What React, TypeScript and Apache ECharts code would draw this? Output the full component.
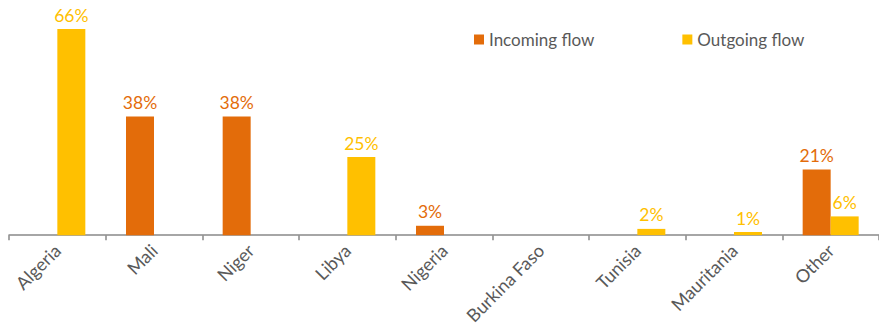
import React, { useEffect, useRef } from "react";
import * as echarts from "echarts";

const categories = ["Algeria", "Mali", "Niger", "Libya", "Nigeria", "Burkina Faso", "Tunisia", "Mauritania", "Other"];
const incomingFlow = [null, 38, 38, null, 3, null, null, null, 21];
const outgoingFlow = [66, null, null, 25, null, null, 2, 1, 6];
const seriesNames = ["Incoming flow", "Outgoing flow"];

const ORANGE = "#E36C0A";
const YELLOW = "#FFC000";
const FONT = "Lato, 'Noto Sans', sans-serif";

export default function App() {
  const ref = useRef<HTMLDivElement>(null);
  useEffect(() => {
    if (!ref.current) return;
    const chart = echarts.init(ref.current, null, { renderer: "svg" });
    const label = (color: string) => ({
      show: true,
      position: "top",
      distance: 5,
      formatter: "{c}%",
      color,
      fontFamily: FONT,
      fontSize: 17.5,
    });
    chart.setOption({
      animation: false,
      backgroundColor: "#ffffff",
      legend: {
        left: 469,
        top: 26,
        icon: "rect",
        itemWidth: 10,
        itemHeight: 10,
        itemGap: 88,
        textStyle: { color: "#595959", fontFamily: FONT, fontSize: 17, padding: [0, 0, 0, 0] },
        data: seriesNames,
      },
      grid: { left: 9, width: 874, top: 29, bottom: 90 },
      xAxis: {
        type: "category",
        data: categories,
        axisLine: { lineStyle: { color: "#898989", width: 1.5 } },
        axisTick: { show: true, length: 5, lineStyle: { color: "#898989", width: 1.5 } },
        axisLabel: {
          rotate: 45,
          interval: 0,
          color: "#595959",
          fontFamily: FONT,
          fontSize: 18,
          margin: 12,
        },
      },
      yAxis: { type: "value", show: false, min: 0, max: 66, splitLine: { show: false } },
      series: [
        {
          name: seriesNames[0],
          type: "bar",
          data: incomingFlow,
          barWidth: 28,
          barGap: "0%",
          itemStyle: { color: ORANGE },
          label: label(ORANGE),
        },
        {
          name: seriesNames[1],
          type: "bar",
          data: outgoingFlow,
          barWidth: 28,
          barGap: "0%",
          itemStyle: { color: YELLOW },
          label: label(YELLOW),
        },
      ],
    });
    return () => chart.dispose();
  }, []);
  return <div ref={ref} style={{ position: "absolute", left: 0, top: 0, width: 879, height: 327 }} />;
}
